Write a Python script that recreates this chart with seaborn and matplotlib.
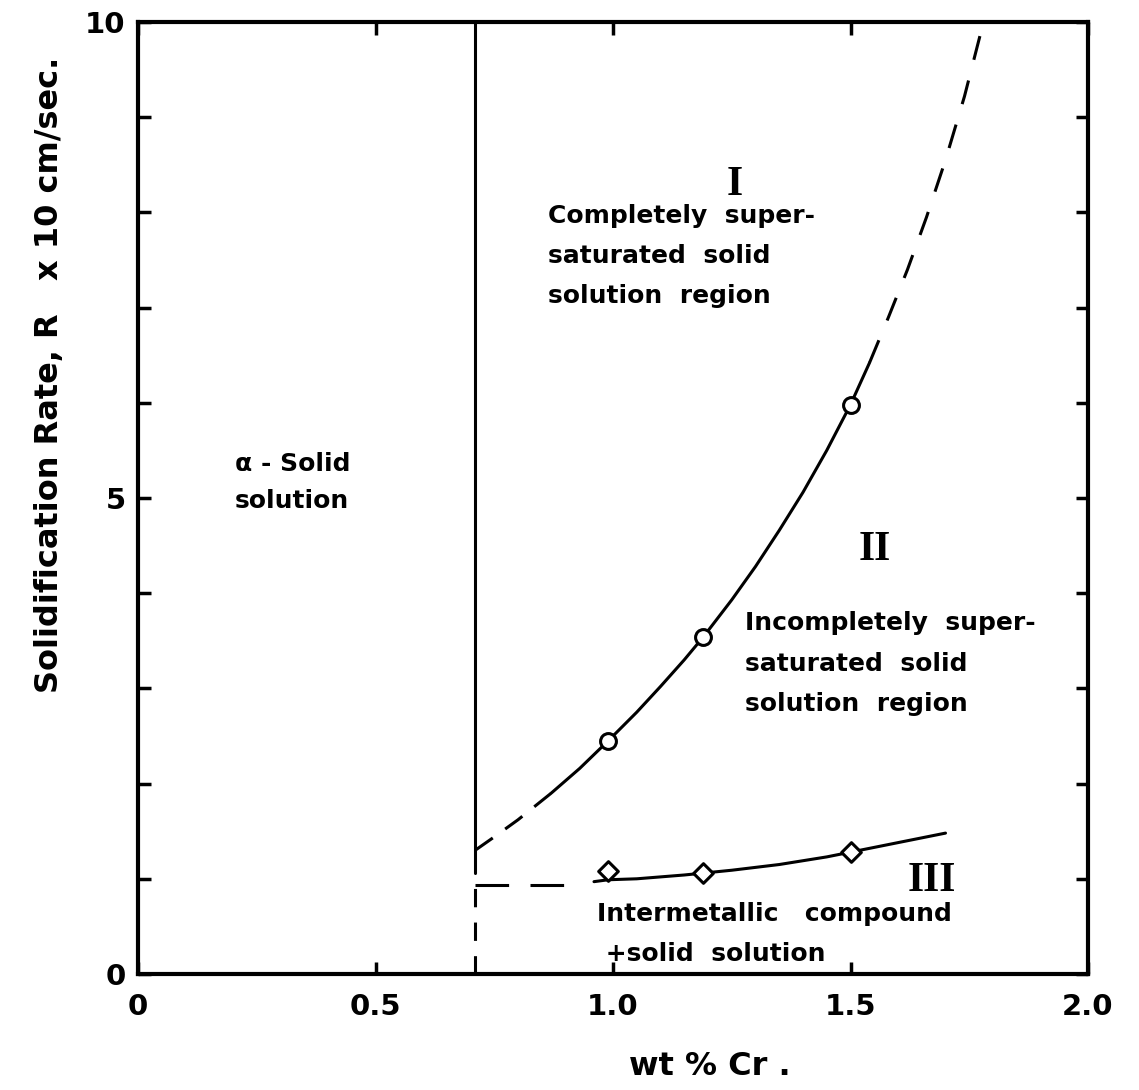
import matplotlib
matplotlib.use("Agg")
import matplotlib.pyplot as plt
import seaborn as sns
from matplotlib.ticker import MultipleLocator

# ---------------- data ----------------
# measured points
circle_x = [0.99, 1.19, 1.50]
circle_y = [2.45, 3.54, 5.98]
diamond_x = [0.99, 1.19, 1.50]
diamond_y = [1.08, 1.06, 1.28]

# boundary I / II
b12_low_dash_x = [0.71, 0.75, 0.80, 0.85, 0.87]
b12_low_dash_y = [1.30, 1.44, 1.62, 1.82, 1.90]
b12_solid_x = [0.87, 0.93, 0.99, 1.05, 1.10, 1.15, 1.19, 1.25, 1.30, 1.35,
               1.40, 1.45, 1.50, 1.54]
b12_solid_y = [1.90, 2.16, 2.45, 2.75, 3.02, 3.30, 3.54, 3.93, 4.28, 4.66,
               5.06, 5.50, 5.98, 6.42]
b12_high_dash_x = [1.54, 1.58, 1.62, 1.66, 1.70, 1.74, 1.78]
b12_high_dash_y = [6.42, 6.90, 7.40, 7.95, 8.55, 9.22, 10.0]

# boundary II / III
b23_dash_x = [0.71, 0.92]
b23_dash_y = [0.93, 0.93]
b23_solid_x = [0.96, 0.99, 1.05, 1.10, 1.15, 1.19, 1.25, 1.30, 1.35, 1.40,
               1.45, 1.50, 1.55, 1.60, 1.65, 1.70]
b23_solid_y = [0.97, 0.99, 1.00, 1.02, 1.04, 1.06, 1.09, 1.12, 1.15, 1.19,
               1.23, 1.28, 1.33, 1.38, 1.43, 1.48]

# alpha solid solution boundary
alpha_x = [0.71, 0.71]
alpha_solid_y = [1.06, 10.0]
alpha_dash_y = [0.0, 0.91]

# axes
x_ticks = [0, 0.5, 1.0, 1.5, 2.0]
x_ticklabels = ["0", "0.5", "1.0", "1.5", "2.0"]
y_ticks = [0, 5, 10]
y_ticklabels = ["0", "5", "10"]
x_label = "wt % Cr ."
y_label = "Solidification Rate, R   x 10 cm/sec."

# region labels
numeral_text = ["I", "II", "III"]
numeral_x = [1.257, 1.552, 1.672]
numeral_y = [8.29, 4.45, 0.98]
region_text = [
    "Completely  super-\nsaturated  solid\nsolution  region",
    "Incompletely  super-\nsaturated  solid\nsolution  region",
    "Intermetallic   compound\n +solid  solution",
]
region_x = [0.863, 1.278, 0.966]
region_y = [7.54, 3.26, 0.42]
alpha_text = "\u03b1 - Solid\nsolution"
alpha_text_x = 0.325
alpha_text_y = 5.16

# ---------------- drawing ----------------
sns.set_theme(style="ticks")
plt.rcParams['font.family'] = ['DejaVu Sans']
plt.rcParams['text.color'] = 'black'
plt.rcParams['axes.labelcolor'] = 'black'

fig = plt.figure(figsize=(11.39, 10.90), dpi=100)
ax = fig.add_axes([138 / 1139, 116 / 1090, 950 / 1139, 952 / 1090])

LW = 2.2
common = dict(sort=False, estimator=None, color="black", linewidth=LW, ax=ax)

sns.lineplot(x=b12_low_dash_x, y=b12_low_dash_y, linestyle=(0, (7, 5)), **common)
sns.lineplot(x=b12_solid_x, y=b12_solid_y, **common)
sns.lineplot(x=b12_high_dash_x, y=b12_high_dash_y, linestyle=(0, (8, 7)), **common)

sns.lineplot(x=b23_dash_x, y=b23_dash_y, linestyle=(0, (11, 7)), **common)
sns.lineplot(x=b23_solid_x, y=b23_solid_y, **common)

sns.lineplot(x=alpha_x, y=alpha_solid_y, **common)
sns.lineplot(x=alpha_x, y=alpha_dash_y, linestyle=(0, (6, 5)), **common)

sns.scatterplot(x=circle_x, y=circle_y, marker="o", s=130, color="white",
                edgecolor="black", linewidth=2.2, zorder=5, ax=ax)
sns.scatterplot(x=diamond_x, y=diamond_y, marker="D", s=100, color="white",
                edgecolor="black", linewidth=2.2, zorder=5, ax=ax)

# region texts
for t, x, y in zip(numeral_text, numeral_x, numeral_y):
    ax.text(x, y, t, ha="center", va="center", fontsize=30, fontweight="bold",
            family=["Liberation Serif", "DejaVu Serif"], color="black")
for t, x, y in zip(region_text, region_x, region_y):
    ax.text(x, y, t, ha="left", va="center", fontsize=18, fontweight="bold",
            linespacing=1.85, color="black")
ax.text(alpha_text_x, alpha_text_y, alpha_text, ha="center", va="center",
        multialignment="center", fontsize=18, fontweight="bold",
        linespacing=1.7, color="black")

# axes
ax.set_xlim(0, 2.0)
ax.set_ylim(0, 10)
ax.set_xticks(x_ticks)
ax.set_xticklabels(x_ticklabels, fontsize=21, fontweight="bold")
ax.set_yticks(y_ticks)
ax.set_yticklabels(y_ticklabels, fontsize=21, fontweight="bold")
ax.yaxis.set_minor_locator(MultipleLocator(1))
ax.tick_params(which="both", direction="in", length=9, width=2.5,
               top=True, right=True, color="black", labelcolor="black")
ax.tick_params(axis="x", pad=14)
ax.tick_params(axis="y", pad=9)
for s in ax.spines.values():
    s.set_linewidth(3)
    s.set_color("black")

ax.set_xlabel(x_label, fontsize=23, fontweight="bold", va="center", color="black")
ax.xaxis.set_label_coords(0.602, -0.097)
ax.set_ylabel(y_label, fontsize=23, fontweight="bold", va="center", color="black")
ax.yaxis.set_label_coords(-0.093, 0.629)

fig.savefig("out.png", dpi=100)
